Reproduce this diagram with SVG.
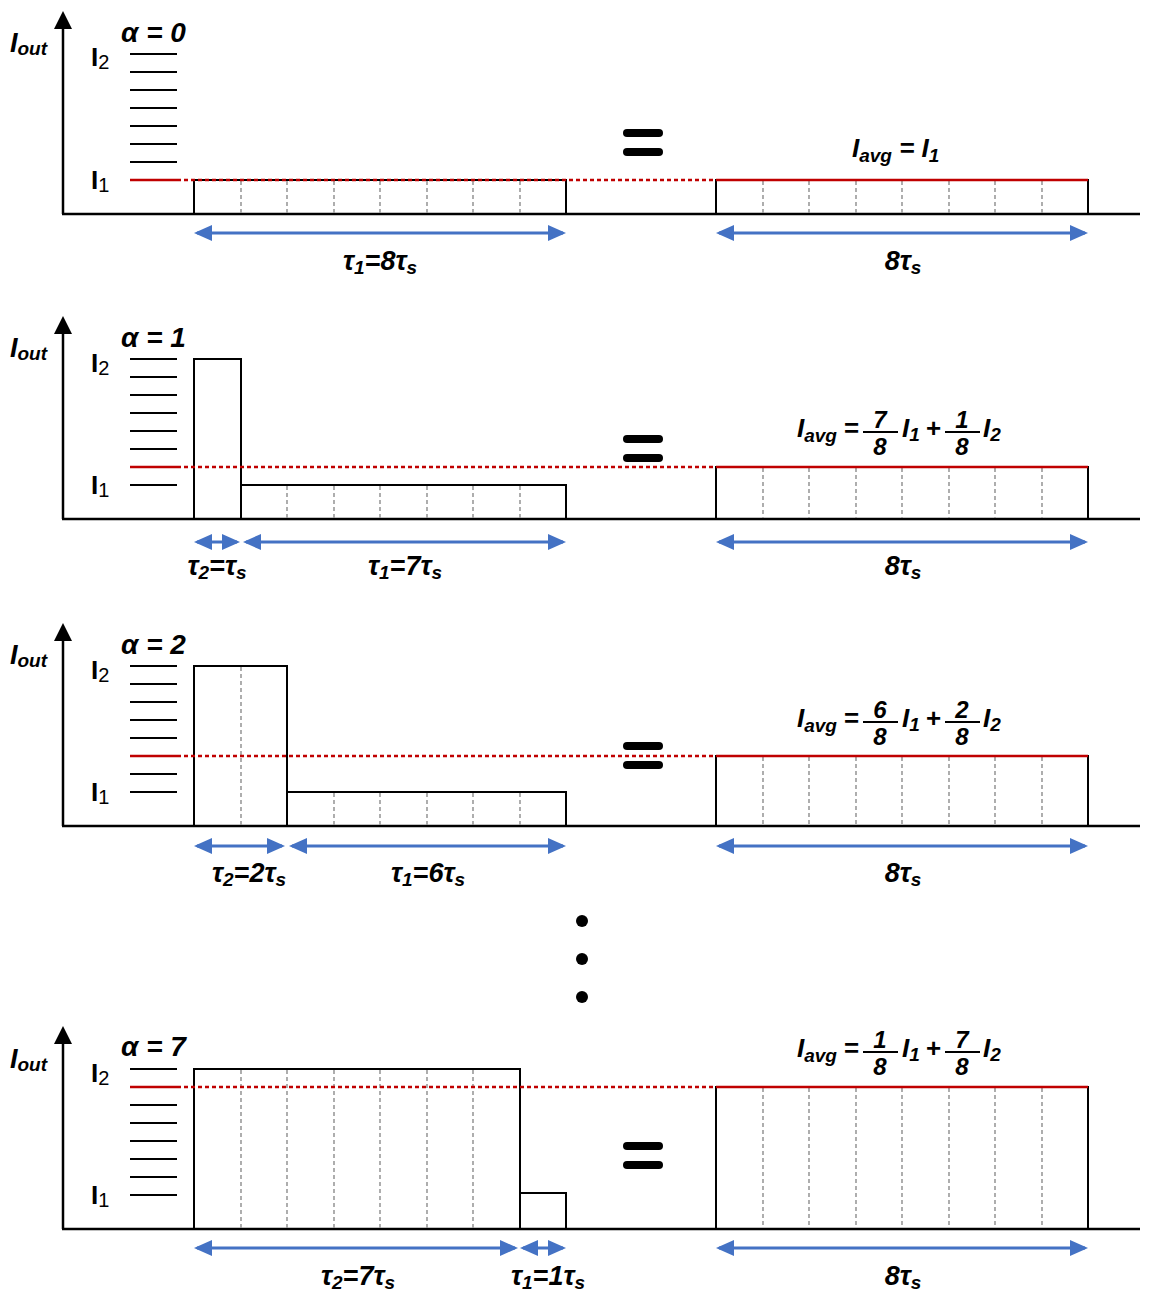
<svg xmlns="http://www.w3.org/2000/svg" width="1150" height="1298" viewBox="0 0 1150 1298">
<defs>
<marker id="ah" markerUnits="userSpaceOnUse" markerWidth="18" markerHeight="16" refX="15" refY="8" orient="auto-start-reverse">
<path d="M0,0 L18,8 L0,16 z" fill="#4472c4"/>
</marker>
<style>
.ax{stroke:#000;stroke-width:2.5;fill:none}
.bx{stroke:#000;stroke-width:2;fill:none}
.tk{stroke:#000;stroke-width:2.2}
.dv{stroke:#9a9a9a;stroke-width:1.6;stroke-dasharray:4 3}
.rs{stroke:#c00000;stroke-width:2.5}
.rd{stroke:#c00000;stroke-width:2.5;stroke-dasharray:4 3}
.ar{stroke:#4472c4;stroke-width:3;marker-start:url(#ah);marker-end:url(#ah)}
.fb{stroke:#000;stroke-width:2.2}
.t{font-family:"Liberation Sans",Arial,sans-serif;font-weight:bold;font-style:italic;fill:#000}
.f28{font-size:28px}
.f27{font-size:27px}
.f26{font-size:26px}
.f24{font-size:24px}
.s{font-size:19px}
.up{font-style:normal;font-size:26px}
.ups{font-style:normal;font-weight:normal;font-size:20px}
.eq{fill:#000}
.dot{fill:#000}
</style>
</defs>

<!-- Panel 1: alpha = 0 -->
<g id="panel1">
<line class="ax" x1="63" y1="214" x2="63" y2="26"/>
<polygon points="63,11 54,29 72,29" fill="#000"/>
<line class="ax" x1="62" y1="214" x2="1140" y2="214"/>
<text class="t f27" x="10" y="52">I<tspan class="s" dy="3">out</tspan></text>
<text class="t f28" x="121" y="42">α = 0</text>
<text class="t up" x="91" y="66">I<tspan class="ups" dy="3">2</tspan></text>
<text class="t up" x="91" y="189">I<tspan class="ups" dy="3">1</tspan></text>
<g>
<line class="tk" x1="130" y1="54" x2="177" y2="54"/>
<line class="tk" x1="130" y1="72" x2="177" y2="72"/>
<line class="tk" x1="130" y1="90" x2="177" y2="90"/>
<line class="tk" x1="130" y1="108" x2="177" y2="108"/>
<line class="tk" x1="130" y1="126" x2="177" y2="126"/>
<line class="tk" x1="130" y1="144" x2="177" y2="144"/>
<line class="tk" x1="130" y1="162" x2="177" y2="162"/>
<line class="rs" x1="130" y1="180" x2="177" y2="180"/>
</g>
<polyline class="bx" points="194,214 194,180 566,180 566,214"/>
<line class="dv" x1="241" y1="181" x2="241" y2="213"/>
<line class="dv" x1="287" y1="181" x2="287" y2="213"/>
<line class="dv" x1="334" y1="181" x2="334" y2="213"/>
<line class="dv" x1="380" y1="181" x2="380" y2="213"/>
<line class="dv" x1="427" y1="181" x2="427" y2="213"/>
<line class="dv" x1="473" y1="181" x2="473" y2="213"/>
<line class="dv" x1="520" y1="181" x2="520" y2="213"/>
<line class="rd" x1="177" y1="180" x2="716" y2="180"/>
<rect class="eq" x="623" y="129" width="40" height="8" rx="4"/>
<rect class="eq" x="623" y="148" width="40" height="8" rx="4"/>
<polyline class="bx" points="716,214 716,180 1088,180 1088,214"/>
<line class="dv" x1="763" y1="181" x2="763" y2="213"/>
<line class="dv" x1="809" y1="181" x2="809" y2="213"/>
<line class="dv" x1="856" y1="181" x2="856" y2="213"/>
<line class="dv" x1="902" y1="181" x2="902" y2="213"/>
<line class="dv" x1="949" y1="181" x2="949" y2="213"/>
<line class="dv" x1="995" y1="181" x2="995" y2="213"/>
<line class="dv" x1="1042" y1="181" x2="1042" y2="213"/>
<line class="rs" x1="716" y1="180" x2="1088" y2="180"/>
<text class="t f26" x="852" y="157">I<tspan class="s" dy="5">avg</tspan><tspan dy="-5"> = I</tspan><tspan class="s" dy="5">1</tspan></text>
<text class="t f27" x="380" y="270" text-anchor="middle">τ<tspan class="s" dy="4">1</tspan><tspan dy="-4">=8τ</tspan><tspan class="s" dy="4">s</tspan></text>
<text class="t f27" x="903" y="270" text-anchor="middle">8τ<tspan class="s" dy="4">s</tspan></text>
</g>

<!-- Panel 2: alpha = 1 -->
<g id="panel2" transform="translate(0,305)">
<line class="ax" x1="63" y1="214" x2="63" y2="26"/>
<polygon points="63,11 54,29 72,29" fill="#000"/>
<line class="ax" x1="62" y1="214" x2="1140" y2="214"/>
<text class="t f27" x="10" y="52">I<tspan class="s" dy="3">out</tspan></text>
<text class="t f28" x="121" y="42">α = 1</text>
<text class="t up" x="91" y="67">I<tspan class="ups" dy="3">2</tspan></text>
<text class="t up" x="91" y="189">I<tspan class="ups" dy="3">1</tspan></text>
<g>
<line class="tk" x1="130" y1="54" x2="177" y2="54"/>
<line class="tk" x1="130" y1="72" x2="177" y2="72"/>
<line class="tk" x1="130" y1="90" x2="177" y2="90"/>
<line class="tk" x1="130" y1="108" x2="177" y2="108"/>
<line class="tk" x1="130" y1="126" x2="177" y2="126"/>
<line class="tk" x1="130" y1="144" x2="177" y2="144"/>
<line class="rs" x1="130" y1="162" x2="177" y2="162"/>
<line class="tk" x1="130" y1="180" x2="177" y2="180"/>
</g>
<polyline class="bx" points="194,214 194,54 241,54 241,214"/>
<polyline class="bx" points="241,180 566,180 566,214"/>
<line class="dv" x1="287" y1="181" x2="287" y2="213"/>
<line class="dv" x1="334" y1="181" x2="334" y2="213"/>
<line class="dv" x1="380" y1="181" x2="380" y2="213"/>
<line class="dv" x1="427" y1="181" x2="427" y2="213"/>
<line class="dv" x1="473" y1="181" x2="473" y2="213"/>
<line class="dv" x1="520" y1="181" x2="520" y2="213"/>
<line class="rd" x1="177" y1="162" x2="716" y2="162"/>
<rect class="eq" x="623" y="130" width="40" height="8" rx="4"/>
<rect class="eq" x="623" y="149" width="40" height="8" rx="4"/>
<polyline class="bx" points="716,214 716,162 1088,162 1088,214"/>
<line class="dv" x1="763" y1="163" x2="763" y2="213"/>
<line class="dv" x1="809" y1="163" x2="809" y2="213"/>
<line class="dv" x1="856" y1="163" x2="856" y2="213"/>
<line class="dv" x1="902" y1="163" x2="902" y2="213"/>
<line class="dv" x1="949" y1="163" x2="949" y2="213"/>
<line class="dv" x1="995" y1="163" x2="995" y2="213"/>
<line class="dv" x1="1042" y1="163" x2="1042" y2="213"/>
<line class="rs" x1="716" y1="162" x2="1088" y2="162"/>
<g id="formula2">
<text class="t f26" x="797" y="132">I<tspan class="s" dy="5">avg</tspan></text>
<text class="t f26" x="851" y="132" text-anchor="middle">=</text>
<line class="fb" x1="863" y1="127" x2="898" y2="127"/>
<text class="t f24" x="880" y="123" text-anchor="middle">7</text>
<text class="t f24" x="880" y="150" text-anchor="middle">8</text>
<text class="t f26" x="902" y="132">I<tspan class="s" dy="4">1</tspan></text>
<text class="t f26" x="933" y="132" text-anchor="middle">+</text>
<line class="fb" x1="945" y1="127" x2="980" y2="127"/>
<text class="t f24" x="962" y="123" text-anchor="middle">1</text>
<text class="t f24" x="962" y="150" text-anchor="middle">8</text>
<text class="t f26" x="983" y="132">I<tspan class="s" dy="4">2</tspan></text>
</g>
<line class="ar" x1="197" y1="237" x2="237" y2="237"/>
<line class="ar" x1="246" y1="237" x2="563" y2="237"/>
<line class="ar" x1="719" y1="237" x2="1085" y2="237"/>
<text class="t f27" x="217" y="270" text-anchor="middle">τ<tspan class="s" dy="4">2</tspan><tspan dy="-4">=τ</tspan><tspan class="s" dy="4">s</tspan></text>
<text class="t f27" x="405" y="270" text-anchor="middle">τ<tspan class="s" dy="4">1</tspan><tspan dy="-4">=7τ</tspan><tspan class="s" dy="4">s</tspan></text>
<text class="t f27" x="903" y="270" text-anchor="middle">8τ<tspan class="s" dy="4">s</tspan></text>
</g>

<!-- Panel 3: alpha = 2 -->
<g id="panel3" transform="translate(0,612)">
<line class="ax" x1="63" y1="214" x2="63" y2="26"/>
<polygon points="63,11 54,29 72,29" fill="#000"/>
<line class="ax" x1="62" y1="214" x2="1140" y2="214"/>
<text class="t f27" x="10" y="52">I<tspan class="s" dy="3">out</tspan></text>
<text class="t f28" x="121" y="42">α = 2</text>
<text class="t up" x="91" y="67">I<tspan class="ups" dy="3">2</tspan></text>
<text class="t up" x="91" y="189">I<tspan class="ups" dy="3">1</tspan></text>
<g>
<line class="tk" x1="130" y1="54" x2="177" y2="54"/>
<line class="tk" x1="130" y1="72" x2="177" y2="72"/>
<line class="tk" x1="130" y1="90" x2="177" y2="90"/>
<line class="tk" x1="130" y1="108" x2="177" y2="108"/>
<line class="tk" x1="130" y1="126" x2="177" y2="126"/>
<line class="rs" x1="130" y1="144" x2="177" y2="144"/>
<line class="tk" x1="130" y1="162" x2="177" y2="162"/>
<line class="tk" x1="130" y1="180" x2="177" y2="180"/>
</g>
<polyline class="bx" points="194,214 194,54 287,54 287,214"/>
<line class="dv" x1="241" y1="55" x2="241" y2="213"/>
<polyline class="bx" points="287,180 566,180 566,214"/>
<line class="dv" x1="334" y1="181" x2="334" y2="213"/>
<line class="dv" x1="380" y1="181" x2="380" y2="213"/>
<line class="dv" x1="427" y1="181" x2="427" y2="213"/>
<line class="dv" x1="473" y1="181" x2="473" y2="213"/>
<line class="dv" x1="520" y1="181" x2="520" y2="213"/>
<line class="rd" x1="177" y1="144" x2="716" y2="144"/>
<rect class="eq" x="623" y="130" width="40" height="8" rx="4"/>
<rect class="eq" x="623" y="149" width="40" height="8" rx="4"/>
<polyline class="bx" points="716,214 716,144 1088,144 1088,214"/>
<line class="dv" x1="763" y1="145" x2="763" y2="213"/>
<line class="dv" x1="809" y1="145" x2="809" y2="213"/>
<line class="dv" x1="856" y1="145" x2="856" y2="213"/>
<line class="dv" x1="902" y1="145" x2="902" y2="213"/>
<line class="dv" x1="949" y1="145" x2="949" y2="213"/>
<line class="dv" x1="995" y1="145" x2="995" y2="213"/>
<line class="dv" x1="1042" y1="145" x2="1042" y2="213"/>
<line class="rs" x1="716" y1="144" x2="1088" y2="144"/>
<g id="formula3">
<text class="t f26" x="797" y="115">I<tspan class="s" dy="5">avg</tspan></text>
<text class="t f26" x="851" y="115" text-anchor="middle">=</text>
<line class="fb" x1="863" y1="110" x2="898" y2="110"/>
<text class="t f24" x="880" y="106" text-anchor="middle">6</text>
<text class="t f24" x="880" y="133" text-anchor="middle">8</text>
<text class="t f26" x="902" y="115">I<tspan class="s" dy="4">1</tspan></text>
<text class="t f26" x="933" y="115" text-anchor="middle">+</text>
<line class="fb" x1="945" y1="110" x2="980" y2="110"/>
<text class="t f24" x="962" y="106" text-anchor="middle">2</text>
<text class="t f24" x="962" y="133" text-anchor="middle">8</text>
<text class="t f26" x="983" y="115">I<tspan class="s" dy="4">2</tspan></text>
</g>
<line class="ar" x1="197" y1="234" x2="282" y2="234"/>
<line class="ar" x1="292" y1="234" x2="563" y2="234"/>
<line class="ar" x1="719" y1="234" x2="1085" y2="234"/>
<text class="t f27" x="249" y="270" text-anchor="middle">τ<tspan class="s" dy="4">2</tspan><tspan dy="-4">=2τ</tspan><tspan class="s" dy="4">s</tspan></text>
<text class="t f27" x="428" y="270" text-anchor="middle">τ<tspan class="s" dy="4">1</tspan><tspan dy="-4">=6τ</tspan><tspan class="s" dy="4">s</tspan></text>
<text class="t f27" x="903" y="270" text-anchor="middle">8τ<tspan class="s" dy="4">s</tspan></text>
</g>

<!-- ellipsis dots -->
<g id="ellipsis">
<circle class="dot" cx="582" cy="921" r="6"/>
<circle class="dot" cx="582" cy="959" r="6"/>
<circle class="dot" cx="582" cy="997" r="6"/>
</g>

<!-- Panel 4: alpha = 7 -->
<g id="panel4" transform="translate(0,1015)">
<line class="ax" x1="63" y1="214" x2="63" y2="26"/>
<polygon points="63,11 54,29 72,29" fill="#000"/>
<line class="ax" x1="62" y1="214" x2="1140" y2="214"/>
<text class="t f27" x="10" y="53">I<tspan class="s" dy="3">out</tspan></text>
<text class="t f28" x="121" y="41">α = 7</text>
<text class="t up" x="91" y="67">I<tspan class="ups" dy="3">2</tspan></text>
<text class="t up" x="91" y="189">I<tspan class="ups" dy="3">1</tspan></text>
<g>
<line class="tk" x1="130" y1="54" x2="177" y2="54"/>
<line class="rs" x1="130" y1="72" x2="177" y2="72"/>
<line class="tk" x1="130" y1="90" x2="177" y2="90"/>
<line class="tk" x1="130" y1="108" x2="177" y2="108"/>
<line class="tk" x1="130" y1="126" x2="177" y2="126"/>
<line class="tk" x1="130" y1="144" x2="177" y2="144"/>
<line class="tk" x1="130" y1="162" x2="177" y2="162"/>
<line class="tk" x1="130" y1="180" x2="177" y2="180"/>
</g>
<polyline class="bx" points="194,214 194,54 520,54 520,214"/>
<line class="dv" x1="241" y1="55" x2="241" y2="213"/>
<line class="dv" x1="287" y1="55" x2="287" y2="213"/>
<line class="dv" x1="334" y1="55" x2="334" y2="213"/>
<line class="dv" x1="380" y1="55" x2="380" y2="213"/>
<line class="dv" x1="427" y1="55" x2="427" y2="213"/>
<line class="dv" x1="473" y1="55" x2="473" y2="213"/>
<polyline class="bx" points="520,178 566,178 566,214"/>
<line class="rd" x1="177" y1="72" x2="716" y2="72"/>
<rect class="eq" x="623" y="127" width="40" height="8" rx="4"/>
<rect class="eq" x="623" y="146" width="40" height="8" rx="4"/>
<polyline class="bx" points="716,214 716,72 1088,72 1088,214"/>
<line class="dv" x1="763" y1="73" x2="763" y2="213"/>
<line class="dv" x1="809" y1="73" x2="809" y2="213"/>
<line class="dv" x1="856" y1="73" x2="856" y2="213"/>
<line class="dv" x1="902" y1="73" x2="902" y2="213"/>
<line class="dv" x1="949" y1="73" x2="949" y2="213"/>
<line class="dv" x1="995" y1="73" x2="995" y2="213"/>
<line class="dv" x1="1042" y1="73" x2="1042" y2="213"/>
<line class="rs" x1="716" y1="72" x2="1088" y2="72"/>
<g id="formula4">
<text class="t f26" x="797" y="42">I<tspan class="s" dy="5">avg</tspan></text>
<text class="t f26" x="851" y="42" text-anchor="middle">=</text>
<line class="fb" x1="863" y1="37" x2="898" y2="37"/>
<text class="t f24" x="880" y="33" text-anchor="middle">1</text>
<text class="t f24" x="880" y="60" text-anchor="middle">8</text>
<text class="t f26" x="902" y="42">I<tspan class="s" dy="4">1</tspan></text>
<text class="t f26" x="933" y="42" text-anchor="middle">+</text>
<line class="fb" x1="945" y1="37" x2="980" y2="37"/>
<text class="t f24" x="962" y="33" text-anchor="middle">7</text>
<text class="t f24" x="962" y="60" text-anchor="middle">8</text>
<text class="t f26" x="983" y="42">I<tspan class="s" dy="4">2</tspan></text>
</g>
<line class="ar" x1="197" y1="233" x2="515" y2="233"/>
<line class="ar" x1="523" y1="233" x2="563" y2="233"/>
<line class="ar" x1="719" y1="233" x2="1085" y2="233"/>
<text class="t f27" x="358" y="270" text-anchor="middle">τ<tspan class="s" dy="4">2</tspan><tspan dy="-4">=7τ</tspan><tspan class="s" dy="4">s</tspan></text>
<text class="t f27" x="548" y="270" text-anchor="middle">τ<tspan class="s" dy="4">1</tspan><tspan dy="-4">=1τ</tspan><tspan class="s" dy="4">s</tspan></text>
<text class="t f27" x="903" y="270" text-anchor="middle">8τ<tspan class="s" dy="4">s</tspan></text>
</g>

<!-- Panel 1 arrows -->
<g id="connectors">
<line class="ar" x1="197" y1="233" x2="563" y2="233"/>
<line class="ar" x1="719" y1="233" x2="1085" y2="233"/>
</g>
</svg>
